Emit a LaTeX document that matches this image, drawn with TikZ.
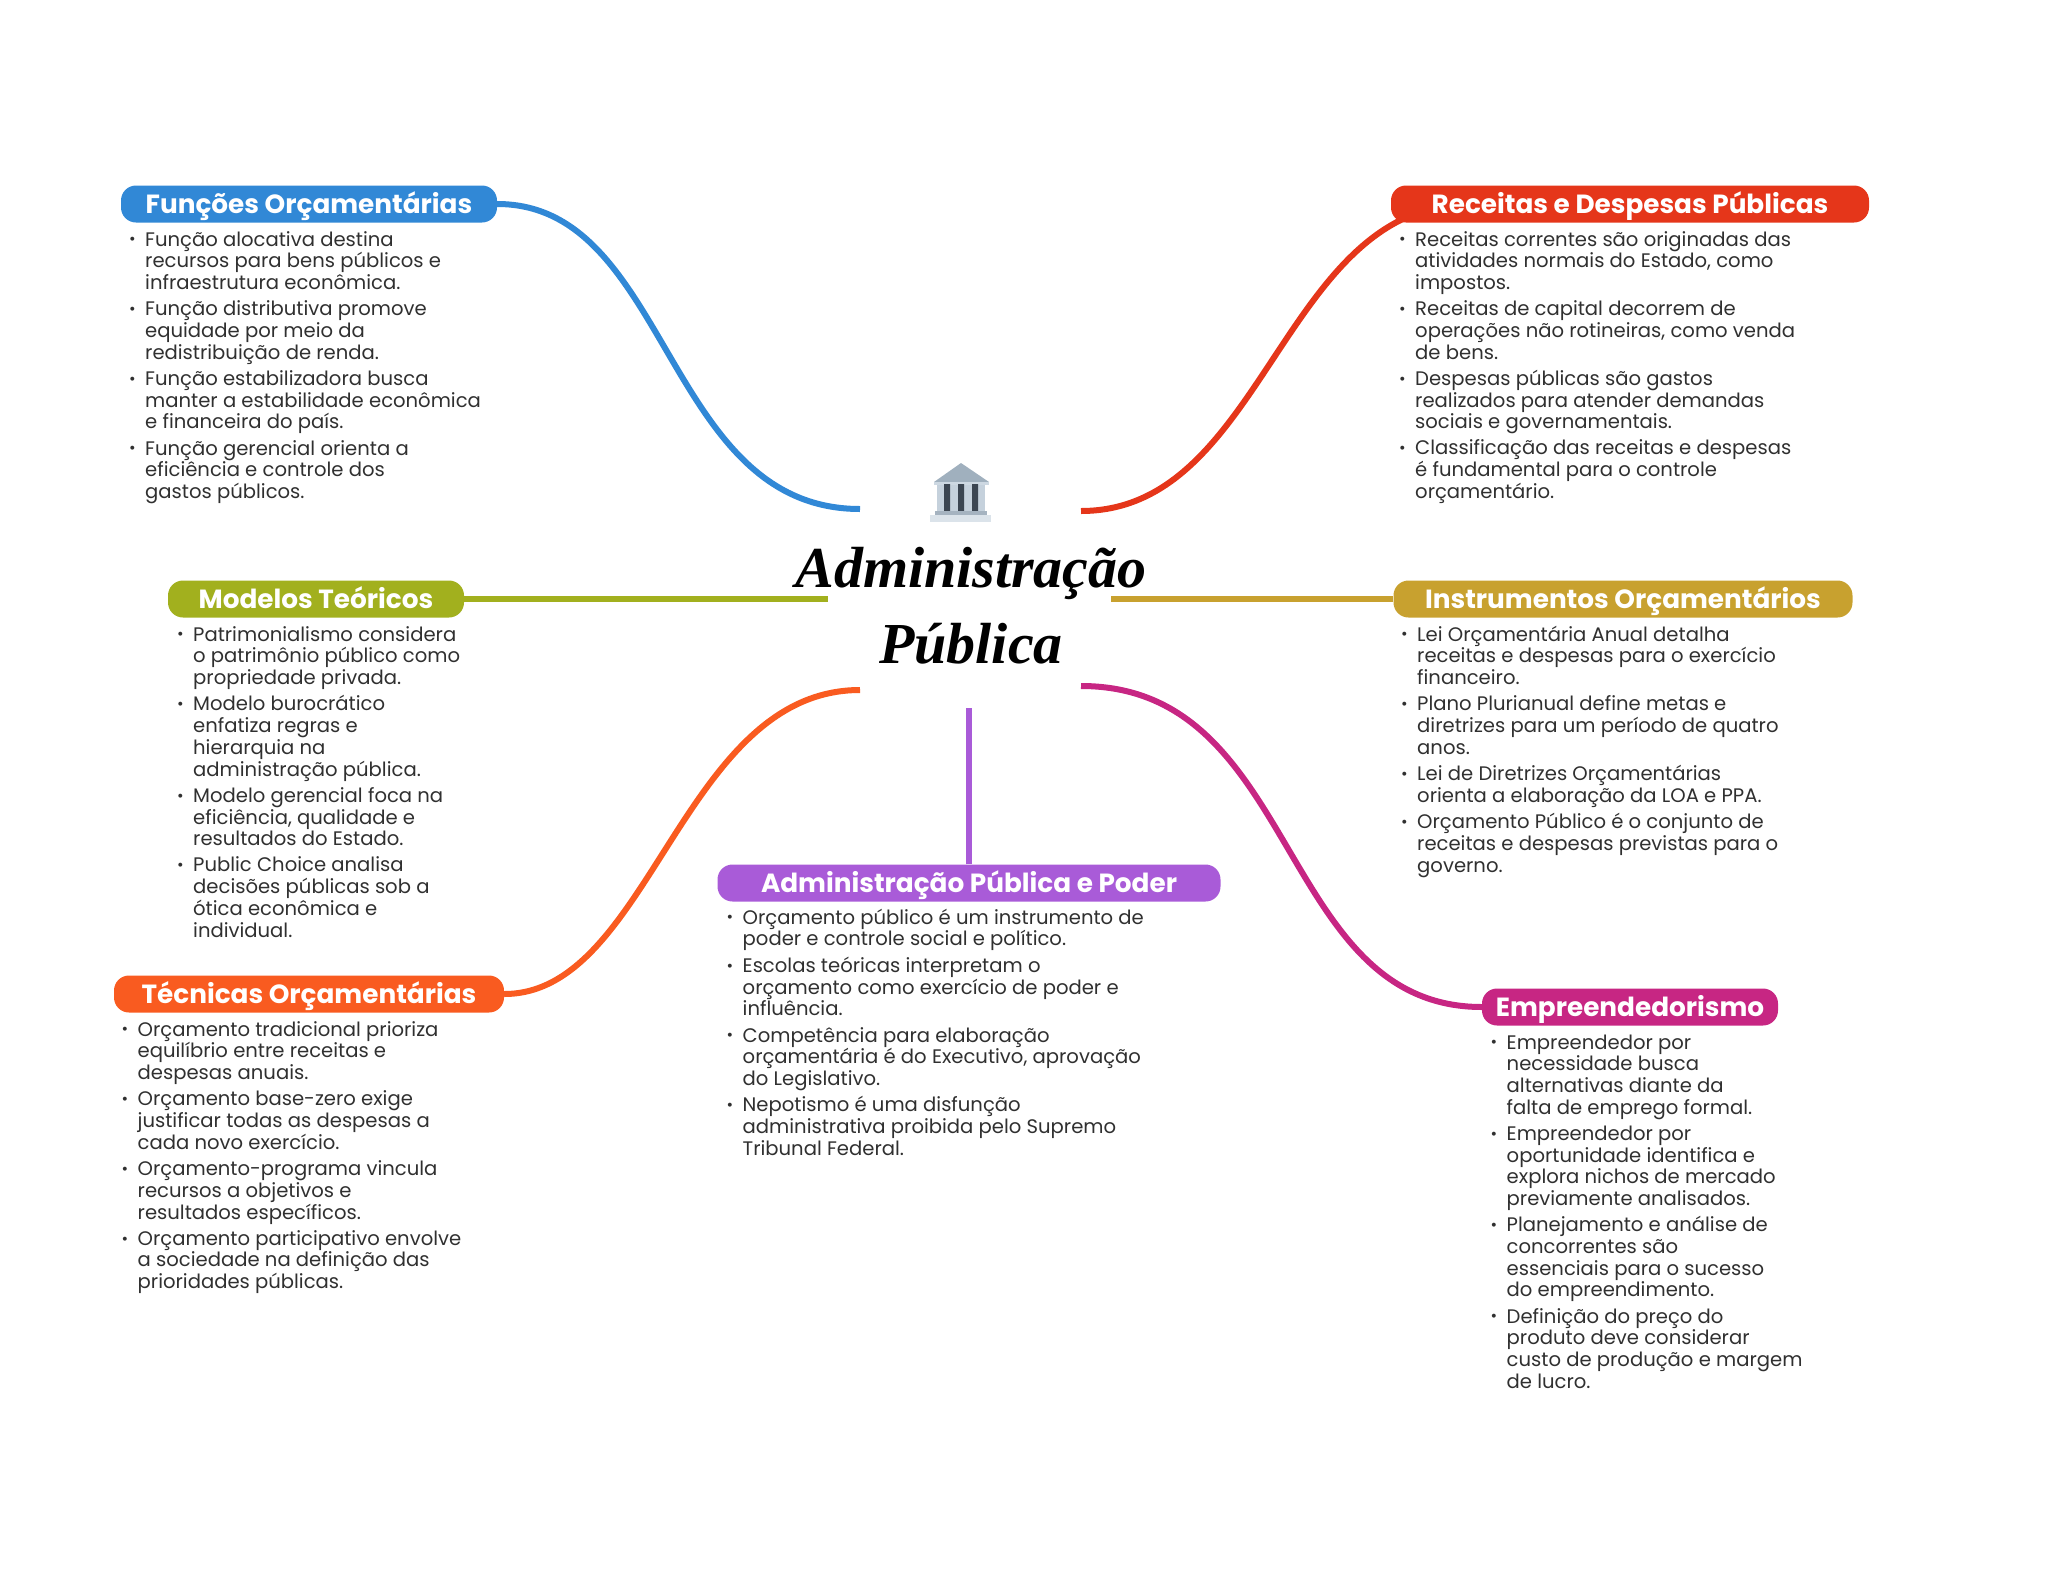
\documentclass[tikz,border=0pt]{standalone}
\usepackage{fontspec}
\usetikzlibrary{backgrounds}
\setmainfont{Poppins}
\newfontfamily\titlefont{Liberation Serif}
\definecolor{cblue}{HTML}{3188D6}
\definecolor{cred}{HTML}{E5361A}
\definecolor{cgreen}{HTML}{A2B01E}
\definecolor{cgold}{HTML}{C8A12F}
\definecolor{corange}{HTML}{F95B20}
\definecolor{cpurple}{HTML}{A95BD8}
\definecolor{cmag}{HTML}{C72683}
\definecolor{ctxt}{HTML}{303030}
\newcommand{\bitem}[1]{\hspace*{-0.5pt}\raisebox{1.2pt}{\fontsize{16}{16}\selectfont\textbullet}&#1\\[4.5pt]}
\newcommand{\nl}{\\&}
\tikzset{
 head/.style={fill=#1,draw=none,rounded corners=15pt,text=white,font=\fontsize{26.3}{30}\selectfont\bfseries,text height=28pt,text depth=9pt,inner xsep=0pt,inner ysep=0pt,anchor=center},
 lst/.style={anchor=base west,inner sep=0pt,text=ctxt,font=\fontsize{19.6}{21.7}\selectfont},
 conn/.style={line width=6pt,#1},
}
\newenvironment{blist}{\begin{tabular}[t]{@{}p{15.5pt}@{}l@{}}}{\end{tabular}}
\begin{document}
\begin{tikzpicture}[x=1pt,y=-1pt]
\useasboundingbox (0,0) rectangle (2048,1569);
% connectors' free ends
\coordinate (eBlue) at (860,509);
\coordinate (eRed) at (1081,511);
\coordinate (eGreen) at (828,599);
\coordinate (eGold) at (1111,599);
\coordinate (eOrange) at (860,690);
\coordinate (eMag) at (1081,686);
\coordinate (ePurple) at (969,708);
% heads
\node[head=cblue,minimum width=376pt] (hF) at (309,204) {Funções Orçamentárias};
\node[head=cred,minimum width=478pt] (hR) at (1630,204) {Receitas e Despesas Públicas};
\node[head=cgreen,minimum width=296pt] (hM) at (316,599) {Modelos Teóricos};
\node[head=cgold,minimum width=459pt] (hI) at (1623,599) {Instrumentos Orçamentários};
\node[head=corange,minimum width=390pt] (hT) at (309,994) {Técnicas Orçamentárias};
\node[head=cpurple,minimum width=503pt] (hA) at (969,883) {Administração Pública e Poder};
\node[head=cmag,minimum width=296pt] (hE) at (1630,1007) {Empreendedorismo};
% connectors
\begin{scope}[on background layer]
\draw[conn=cblue] (hF.east) .. controls (670,204) and (664,509) .. (eBlue);
\draw[conn=cred] ([xshift=79pt]hR.west) .. controls (1282,204) and (1265,511) .. (eRed);
\draw[conn=cgreen] (hM.east) -- (eGreen);
\draw[conn=cgold] (hI.west) -- (eGold);
\draw[conn=corange] (hT.east) .. controls (650,994) and (682,690) .. (eOrange);
\draw[conn=cmag] (hE.west) .. controls (1277,1007) and (1300,686) .. (eMag);
\draw[conn=cpurple] (hA.north) -- (ePurple);
\end{scope}
% lists
\node[lst] (lF) at (129.5,246) {\begin{blist}
\bitem{Função alocativa destina\nl recursos para bens públicos e\nl infraestrutura econômica.}
\bitem{Função distributiva promove\nl equidade por meio da\nl redistribuição de renda.}
\bitem{Função estabilizadora busca\nl manter a estabilidade econômica\nl e financeira do país.}
\bitem{Função gerencial orienta a\nl eficiência e controle dos\nl gastos públicos.}
\end{blist}};
\node[lst] (lR) at (1399.5,246) {\begin{blist}
\bitem{Receitas correntes são originadas das\nl atividades normais do Estado, como\nl impostos.}
\bitem{Receitas de capital decorrem de\nl operações não rotineiras, como venda\nl de bens.}
\bitem{Despesas públicas são gastos\nl realizados para atender demandas\nl sociais e governamentais.}
\bitem{Classificação das receitas e despesas\nl é fundamental para o controle\nl orçamentário.}
\end{blist}};
\node[lst] (lM) at (177.5,641) {\begin{blist}
\bitem{Patrimonialismo considera\nl o patrimônio público como\nl propriedade privada.}
\bitem{Modelo burocrático\nl enfatiza regras e\nl hierarquia na\nl administração pública.}
\bitem{Modelo gerencial foca na\nl eficiência, qualidade e\nl resultados do Estado.}
\bitem{Public Choice analisa\nl decisões públicas sob a\nl ótica econômica e\nl individual.}
\end{blist}};
\node[lst] (lI) at (1401.5,641) {\begin{blist}
\bitem{Lei Orçamentária Anual detalha\nl receitas e despesas para o exercício\nl financeiro.}
\bitem{Plano Plurianual define metas e\nl diretrizes para um período de quatro\nl anos.}
\bitem{Lei de Diretrizes Orçamentárias\nl orienta a elaboração da LOA e PPA.}
\bitem{Orçamento Público é o conjunto de\nl receitas e despesas previstas para o\nl governo.}
\end{blist}};
\node[lst] (lT) at (122,1036) {\begin{blist}
\bitem{Orçamento tradicional prioriza\nl equilíbrio entre receitas e\nl despesas anuais.}
\bitem{Orçamento base-zero exige\nl justificar todas as despesas a\nl cada novo exercício.}
\bitem{Orçamento-programa vincula\nl recursos a objetivos e\nl resultados específicos.}
\bitem{Orçamento participativo envolve\nl a sociedade na definição das\nl prioridades públicas.}
\end{blist}};
\node[lst] (lA) at (727,924) {\begin{blist}
\bitem{Orçamento público é um instrumento de\nl poder e controle social e político.}
\bitem{Escolas teóricas interpretam o\nl orçamento como exercício de poder e\nl influência.}
\bitem{Competência para elaboração\nl orçamentária é do Executivo, aprovação\nl do Legislativo.}
\bitem{Nepotismo é uma disfunção\nl administrativa proibida pelo Supremo\nl Tribunal Federal.}
\end{blist}};
\node[lst] (lE) at (1491,1049) {\begin{blist}
\bitem{Empreendedor por\nl necessidade busca\nl alternativas diante da\nl falta de emprego formal.}
\bitem{Empreendedor por\nl oportunidade identifica e\nl explora nichos de mercado\nl previamente analisados.}
\bitem{Planejamento e análise de\nl concorrentes são\nl essenciais para o sucesso\nl do empreendimento.}
\bitem{Definição do preço do\nl produto deve considerar\nl custo de produção e margem\nl de lucro.}
\end{blist}};
% title
\node[inner sep=0pt,font=\titlefont\itshape\bfseries\fontsize{58}{76}\selectfont,align=center,text=black] (title) at (971,606) {Administração\\Pública};
% icon
\fill[color={rgb,255:red,160;green,176;blue,190}] (961,463) -- (989,482) -- (934,482) -- cycle;
\fill[color={rgb,255:red,205;green,216;blue,226}] (934,482) rectangle (989,485);
\fill[color={rgb,255:red,197;green,209;blue,220}] (937,485) rectangle (985,511);
\fill[color={rgb,255:red,60;green,70;blue,82}] (944,484) rectangle (950,511) (958,484) rectangle (964,511) (972,484) rectangle (978,511);
\fill[color={rgb,255:red,165;green,179;blue,192}] (935,511) rectangle (987,515);
\fill[color={rgb,255:red,219;green,227;blue,234}] (930,515) rectangle (991,522);
\end{tikzpicture}
\end{document}
